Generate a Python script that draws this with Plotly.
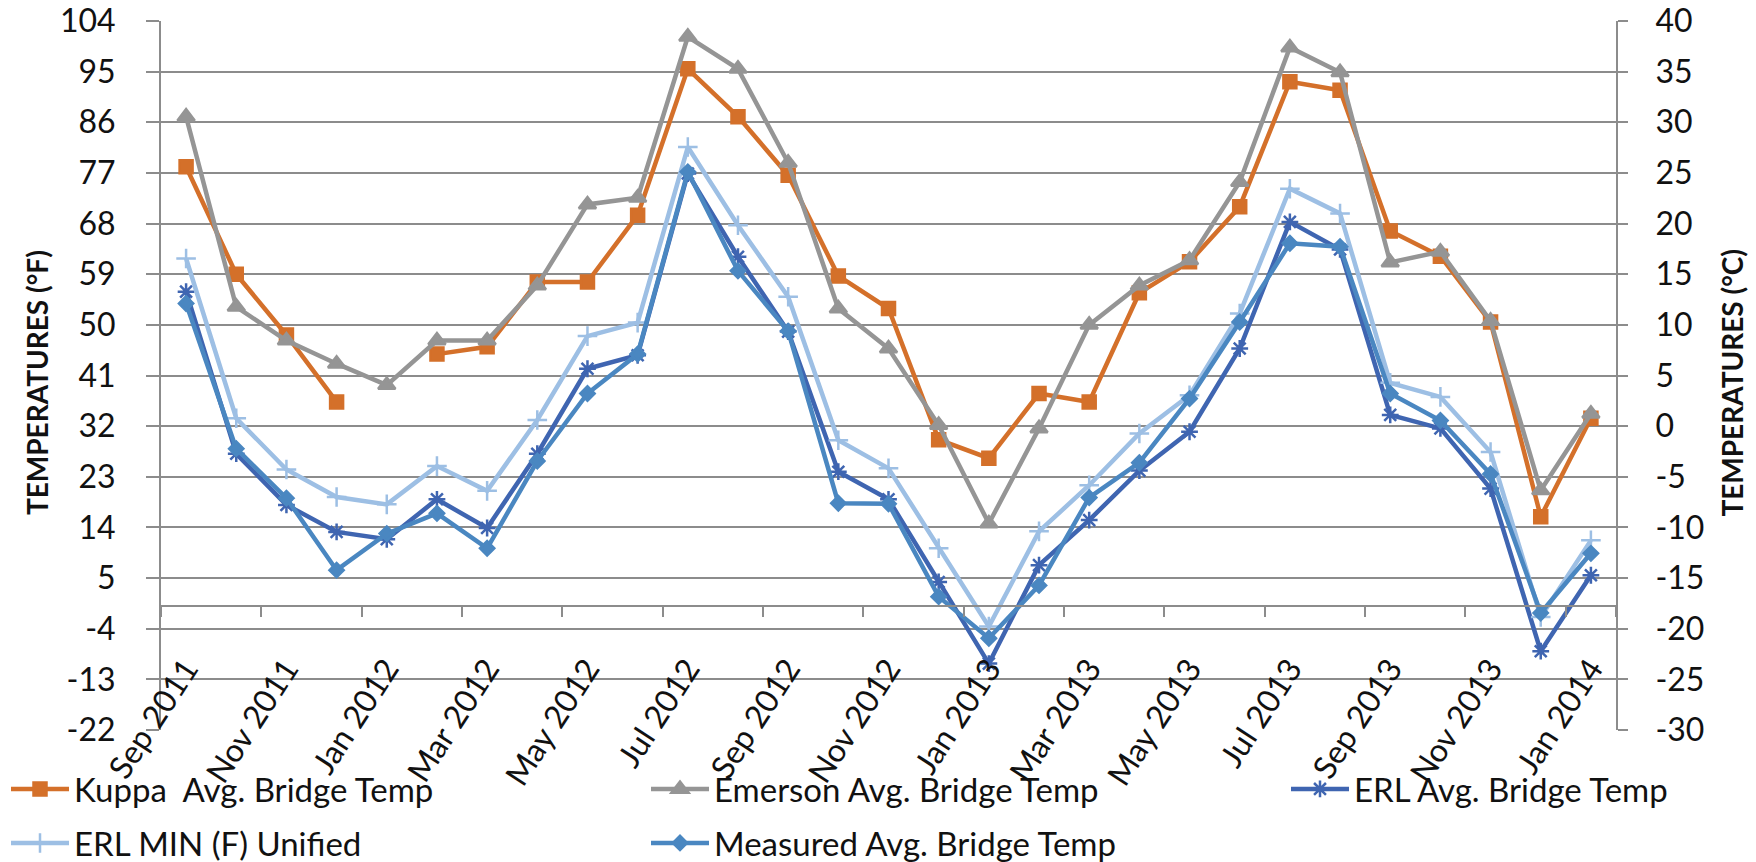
import plotly.graph_objects as go

# Monthly categories, Sep 2011 - Jan 2014
months = [
    "Sep 2011", "Oct 2011", "Nov 2011", "Dec 2011",
    "Jan 2012", "Feb 2012", "Mar 2012", "Apr 2012", "May 2012", "Jun 2012",
    "Jul 2012", "Aug 2012", "Sep 2012", "Oct 2012", "Nov 2012", "Dec 2012",
    "Jan 2013", "Feb 2013", "Mar 2013", "Apr 2013", "May 2013", "Jun 2013",
    "Jul 2013", "Aug 2013", "Sep 2013", "Oct 2013", "Nov 2013", "Dec 2013",
    "Jan 2014",
]
tick_months = months[::2]

# Bridge temperatures in deg F (None = no reading)
kuppa = [78.1, 59.0, 48.2, 36.3, None, 44.8, 46.1, 57.6, 57.6, 69.5,
         95.5, 87.0, 76.6, 58.7, 52.9, 29.6, 26.3, 37.8, 36.3, 55.7,
         61.2, 71.0, 93.2, 91.7, 66.7, 62.2, 50.5, 15.9, 33.4]
emerson = [87.0, 53.2, 47.2, 43.1, 39.3, 47.2, 47.2, 57.0, 71.4, 72.6,
           101.2, 95.5, 78.8, 52.9, 45.8, 32.2, 14.7, 31.6, 50.0, 57.0,
           61.5, 75.4, 99.3, 94.9, 61.1, 63.0, 50.7, 20.6, 34.2]
erl_avg = [55.9, 27.1, 18.0, 13.2, 11.9, 19.0, 13.9, 27.1, 42.2, 44.6,
           76.9, 62.1, 48.8, 23.9, 19.0, 4.3, -10.2, 7.3, 15.3, 24.1,
           31.0, 45.8, 68.3, 63.4, 34.0, 31.6, 20.9, -8.0, 5.5]
erl_min = [61.8, 33.4, 24.3, 19.4, 18.1, 24.9, 20.5, 33.1, 48.0, 50.4,
           81.6, 67.7, 55.0, 29.5, 24.5, 10.3, -3.6, 13.3, 21.5, 30.7,
           37.5, 52.0, 74.2, 69.8, 39.7, 37.2, 27.4, -1.9, 11.7]
measured = [53.8, 28.0, 19.2, 6.4, 12.9, 16.5, 10.3, 25.8, 37.8, 44.8,
            77.2, 59.6, 48.9, 18.3, 18.2, 1.7, -5.7, 3.7, 19.3, 25.5,
            36.9, 50.5, 64.5, 63.9, 37.8, 33.0, 23.5, -1.2, 9.4]

# Axis scales: deg F on the left, deg C on the right
f_ticks = list(range(-22, 105, 9))
c_ticks = list(range(-30, 41, 5))

FONT = "Lato"
FS = 32
INK = "#111111"
GRID = "#8c8c8c"
W, H = 1756, 862
ML, MR, MT, MB = 161, 140, 21, 132
ITEM_W = 58

series = [
    ("Kuppa  Avg. Bridge Temp", kuppa, "#d4702a", "square", 13, "legend"),
    ("Emerson Avg. Bridge Temp", emerson, "#959595", "triangle-up", 15, "legend2"),
    ("ERL Avg. Bridge Temp", erl_avg, "#3f65b1", "asterisk-open", 14, "legend3"),
    ("ERL MIN (F) Unified", erl_min, "#9dbfe4", "cross-thin-open", 14, "legend4"),
    ("Measured Avg. Bridge Temp", measured, "#4a87c1", "diamond", 11, "legend5"),
]

fig = go.Figure()
for name, vals, color, sym, size, leg in series:
    fig.add_trace(go.Scatter(
        x=months, y=vals, name=name, mode="lines+markers",
        line=dict(color=color, width=4.5),
        marker=dict(symbol=sym, size=size, color=color,
                    line=dict(color=color, width=2.5)),
        connectgaps=False, legend=leg, showlegend=True,
    ))

# empty trace that puts the deg C axis on the page
fig.add_trace(go.Scatter(x=[months[0]], y=[None], yaxis="y2", showlegend=False,
                         hoverinfo="skip"))

zero_pos = (0 - f_ticks[0]) / (f_ticks[-1] - f_ticks[0])
tfont = dict(family=FONT, size=FS, color=INK)

fig.update_layout(
    width=W, height=H,
    margin=dict(l=ML, r=MR, t=MT, b=MB, autoexpand=False),
    paper_bgcolor="white", plot_bgcolor="white",
    font=tfont,
    xaxis=dict(
        type="category", categoryorder="array", categoryarray=months,
        range=[-0.5, len(months) - 0.5],
        anchor="free", position=zero_pos,
        tickmode="array", tickvals=tick_months, ticktext=tick_months,
        tickangle=-57, tickson="boundaries", ticklabelstandoff=30,
        ticks="outside", ticklen=10, tickwidth=2, tickcolor=GRID,
        showline=True, linecolor=GRID, linewidth=2,
        showgrid=False, zeroline=False, tickfont=tfont,
    ),
    yaxis=dict(
        range=[f_ticks[0], f_ticks[-1]],
        tickmode="array", tickvals=f_ticks, ticktext=[str(v) for v in f_ticks],
        showgrid=True, gridcolor=GRID, gridwidth=2,
        showline=True, linecolor=GRID, linewidth=2,
        ticks="outside", ticklen=13, tickwidth=2, tickcolor=GRID,
        zeroline=False, ticklabelstandoff=24, tickfont=tfont,
    ),
    yaxis2=dict(
        range=[c_ticks[0], c_ticks[-1]], overlaying="y", side="right",
        tickmode="array", tickvals=c_ticks, ticktext=[str(v) for v in c_ticks],
        showgrid=False, showline=True, linecolor=GRID, linewidth=2,
        ticks="outside", ticklen=10, tickwidth=2, tickcolor=GRID,
        zeroline=False, ticklabelstandoff=21, tickfont=tfont,
    ),
    annotations=[
        dict(text="<b>TEMPERATURES (°F)</b>", textangle=-90,
             xref="paper", yref="paper", x=(36.5 - ML) / (W - ML - MR), y=0.49,
             xanchor="center", yanchor="middle", showarrow=False,
             font=dict(family=FONT, size=28, color=INK)),
        dict(text="<b>TEMPERATURES (°C)</b>", textangle=-90,
             xref="paper", yref="paper", x=(1732 - ML) / (W - ML - MR), y=0.49,
             xanchor="center", yanchor="middle", showarrow=False,
             font=dict(family=FONT, size=28, color=INK)),
    ],
)

# one legend box per entry, laid out in a 3-column grid
leg_pos = {
    "legend": (74, 789), "legend2": (714, 789), "legend3": (1354, 789),
    "legend4": (74, 843), "legend5": (714, 843),
}
for key, (tx, ty) in leg_pos.items():
    fig.update_layout({key: dict(
        xref="container", yref="container",
        x=(tx - 10 - ITEM_W) / W, y=(H - ty) / H,
        xanchor="left", yanchor="middle", itemwidth=ITEM_W,
        bgcolor="rgba(0,0,0,0)", borderwidth=0,
        font=dict(family=FONT, size=33, color=INK),
    )})

fig.write_html("out.html")
